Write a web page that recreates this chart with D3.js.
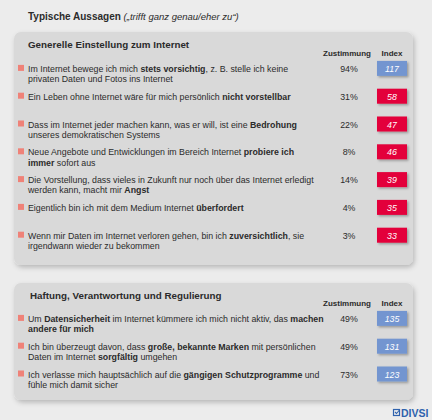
<!DOCTYPE html>
<html><head><meta charset="utf-8">
<script src="https://cdn.jsdelivr.net/npm/d3@7"></script>
<style>
html,body{margin:0;padding:0;background:#ececec;}
svg{display:block;font-family:"Liberation Sans",Arial,sans-serif;}
</style></head>
<body>
<svg id="c" width="432" height="420"></svg>
<script>
// ---- data ----
const title = "Typische Aussagen";
const subtitle = "(„trifft ganz genau/eher zu“)";
const groupTitles = ["Generelle Einstellung zum Internet", "Haftung, Verantwortung und Regulierung"];
const colHeaders = ["Zustimmung", "Index"];
const statements1 = [
  ["Im Internet bewege ich mich **stets vorsichtig**, z. B. stelle ich keine", "privaten Daten und Fotos ins Internet"],
  ["Ein Leben ohne Internet wäre für mich persönlich **nicht vorstellbar**"],
  ["Dass im Internet jeder machen kann, was er will, ist eine **Bedrohung**", "unseres demokratischen Systems"],
  ["Neue Angebote und Entwicklungen im Bereich Internet **probiere ich**", "**immer** sofort aus"],
  ["Die Vorstellung, dass vieles in Zukunft nur noch über das Internet erledigt", "werden kann, macht mir **Angst**"],
  ["Eigentlich bin ich mit dem Medium Internet **überfordert**"],
  ["Wenn mir Daten im Internet verloren gehen, bin ich **zuversichtlich**, sie", "irgendwann wieder zu bekommen"]
];
const agree1 = [94, 31, 22, 8, 14, 4, 3];
const index1 = [117, 58, 47, 46, 39, 35, 33];
const statements2 = [
  ["Um **Datensicherheit** im Internet kümmere ich mich nicht aktiv, das **machen**", "**andere für mich**"],
  ["Ich bin überzeugt davon, dass **große, bekannte Marken** mit persönlichen", "Daten im Internet **sorgfältig** umgehen"],
  ["Ich verlasse mich hauptsächlich auf die **gängigen Schutzprogramme** und", "fühle mich damit sicher"]
];
const agree2 = [49, 49, 73];
const index2 = [135, 131, 123];

// ---- drawing ----
const svg = d3.select("#c");
const defs = svg.append("defs");
const f1 = defs.append("filter").attr("id","psh").attr("x","-10%").attr("y","-10%").attr("width","120%").attr("height","125%");
f1.append("feDropShadow").attr("dx",1.5).attr("dy",2.5).attr("stdDeviation",2.5).attr("flood-color","#000").attr("flood-opacity",0.22);
const f2 = defs.append("filter").attr("id","bsh").attr("x","-30%").attr("y","-30%").attr("width","160%").attr("height","180%");
f2.append("feDropShadow").attr("dx",1.5).attr("dy",1.5).attr("stdDeviation",1.2).attr("flood-color","#000").attr("flood-opacity",0.3);

const textCol = "#2b2b2b";
const fs = 8.8;
const t = svg.append("text").attr("x",28).attr("y",20).attr("fill",textCol).attr("font-size",10);
t.append("tspan").attr("font-weight","bold").text(title + " ");
t.append("tspan").attr("font-style","italic").attr("font-size",9.5).text(subtitle);

const indexColor = v => v > 100 ? "#7395d0" : "#e3023a";

function richLine(sel, str){
  const parts = str.split("**");
  parts.forEach((p,i)=>{ if(p.length) sel.append("tspan").attr("font-weight", i%2 ? "bold" : "normal").text(p); });
}

function panel(cfg){
  const g = svg.append("g");
  g.append("rect").attr("x",14).attr("y",cfg.top).attr("width",399).attr("height",cfg.bottom-cfg.top)
    .attr("rx",7).attr("fill","#d9d9d9").attr("filter","url(#psh)");
  g.append("text").attr("x",cfg.titleX).attr("y",cfg.top+16).attr("font-size",9.8).attr("font-weight","bold")
    .attr("fill",textCol).text(cfg.title);
  const colX = d3.scaleOrdinal().domain(colHeaders).range([347, 392]);
  colHeaders.forEach(h => g.append("text").attr("x",colX(h)).attr("y",cfg.headY).attr("text-anchor","middle")
    .attr("font-size",8).attr("font-weight","bold").attr("fill",textCol).text(h));
  const y = d3.scaleBand().domain(d3.range(cfg.statements.length)).range([cfg.rowStart, cfg.rowStart + cfg.step*cfg.statements.length]);
  const rows = g.selectAll(".row").data(cfg.statements.map((s,i)=>({s, a:cfg.agree[i], v:cfg.index[i], i})))
    .join("g").attr("transform", d => `translate(0,${y(d.i) + y.bandwidth()/2})`);
  rows.append("rect").attr("x",18).attr("y",-4).attr("width",6).attr("height",6).attr("fill","#ef8278");
  rows.each(function(d){
    const r = d3.select(this);
    d.s.forEach((line,k)=>{
      const tx = r.append("text").attr("x",28).attr("y",3 + k*10.4).attr("font-size",fs).attr("fill",textCol);
      richLine(tx, line);
    });
  });
  rows.append("text").attr("x",colX(colHeaders[0])+2).attr("y",3).attr("text-anchor","middle").attr("font-size",fs)
    .attr("fill",textCol).text(d => d.a + "%");
  rows.append("rect").attr("x",colX(colHeaders[1])-15).attr("y",-8).attr("width",30).attr("height",15)
    .attr("fill", d => indexColor(d.v)).attr("filter","url(#bsh)");
  rows.append("text").attr("x",colX(colHeaders[1])).attr("y",3).attr("text-anchor","middle").attr("font-size",fs)
    .attr("font-style","italic").attr("fill","#fff").text(d => d.v);
}

panel({top:32, bottom:265, titleX:28, title:groupTitles[0], headY:56, rowStart:55, step:27.8,
  statements:statements1, agree:agree1, index:index1});
panel({top:283, bottom:400, titleX:30, title:groupTitles[1], headY:306, rowStart:305, step:27.8,
  statements:statements2, agree:agree2, index:index2});

// logo
const logo = svg.append("g").attr("fill","#2f62ad");
logo.append("rect").attr("x",393.5).attr("y",409.5).attr("width",6).attr("height",6).attr("fill","none")
  .attr("stroke","#2f62ad").attr("stroke-width",1.2);
logo.append("path").attr("d","M395,412 l1.5,1.5 l3,-3.5").attr("fill","none").attr("stroke","#2f62ad").attr("stroke-width",1.1);
logo.append("text").attr("x",401).attr("y",417).attr("font-size",10.5).attr("font-weight","bold").text("DIVSI");
</script>
</body></html>
